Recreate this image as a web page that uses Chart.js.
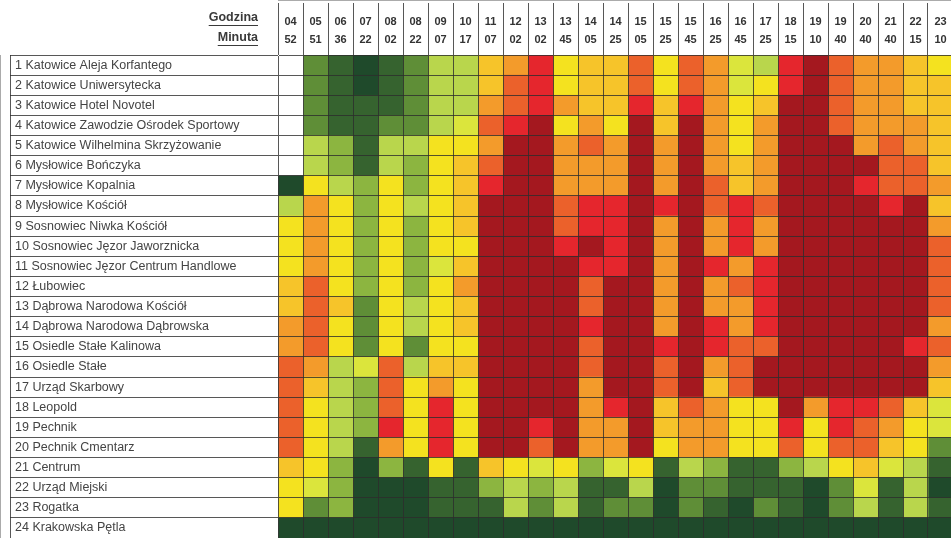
<!DOCTYPE html>
<html>
<head>
<meta charset="utf-8">
<script src="https://cdn.jsdelivr.net/npm/chart.js@4/dist/chart.umd.min.js"></script>
<style>
  html, body { margin: 0; padding: 0; background: #fff; }
  #wrap { width: 951px; height: 538px; }
</style>
</head>
<body>
<div id="wrap"><canvas id="chart"></canvas></div>
<script>
const stops = [
    '1 Katowice Aleja Korfantego',
    '2 Katowice Uniwersytecka',
    '3 Katowice Hotel Novotel',
    '4 Katowice Zawodzie Ośrodek Sportowy',
    '5 Katowice Wilhelmina Skrzyżowanie',
    '6 Mysłowice Bończyka',
    '7 Mysłowice Kopalnia',
    '8 Mysłowice Kościół',
    '9 Sosnowiec Niwka Kościół',
    '10 Sosnowiec Jęzor Jaworznicka',
    '11 Sosnowiec Jęzor Centrum Handlowe',
    '12 Łubowiec',
    '13 Dąbrowa Narodowa Kościół',
    '14 Dąbrowa Narodowa Dąbrowska',
    '15 Osiedle Stałe Kalinowa',
    '16 Osiedle Stałe',
    '17 Urząd Skarbowy',
    '18 Leopold',
    '19 Pechnik',
    '20 Pechnik Cmentarz',
    '21 Centrum',
    '22 Urząd Miejski',
    '23 Rogatka',
    '24 Krakowska Pętla'
];

const hours   = ['04','05','06','07','08','08','09','10','11','12','13','13','14','14','15','15','15','16','16','17','18','19','19','20','21','22','23'];
const minutes = ['52','51','36','22','02','22','07','17','07','02','02','45','05','25','05','25','45','25','45','25','15','10','40','40','40','15','10'];

// occupancy level per stop (row) and departure (column): 0 = almost empty ... 11 = overcrowded, null = no run
const levels = [
    [null,2,1,0,1,2,4,4,7,8,10,6,7,7,9,6,9,8,5,4,10,11,9,8,8,7,6],
    [null,2,1,0,1,2,4,4,7,9,10,6,7,7,9,6,9,8,5,6,10,11,9,8,8,7,7],
    [null,2,1,1,1,2,4,4,8,9,10,8,7,7,10,7,10,8,6,7,11,11,9,8,8,7,7],
    [null,2,1,1,2,2,4,5,9,10,11,6,8,6,11,7,11,8,6,8,11,11,9,8,8,8,7],
    [null,4,3,1,4,4,6,6,8,11,11,8,9,8,11,8,11,8,6,8,11,11,11,8,9,8,7],
    [null,4,3,1,4,3,6,7,9,11,11,8,8,8,11,8,11,8,7,8,11,11,11,11,9,9,7],
    [0,6,4,3,6,3,6,7,10,11,11,8,8,8,11,8,11,9,7,8,11,11,11,10,9,9,8],
    [4,8,6,3,6,4,6,7,11,11,11,9,10,10,11,10,11,9,10,9,11,11,11,11,10,11,7],
    [6,8,6,3,6,3,6,7,11,11,11,9,10,10,11,8,11,8,10,8,11,11,11,11,11,11,8],
    [6,8,6,3,6,3,6,6,11,11,11,10,11,10,11,8,11,8,10,8,11,11,11,11,11,11,9],
    [6,8,6,3,6,3,5,7,11,11,11,11,10,10,11,8,11,10,8,10,11,11,11,11,11,11,9],
    [7,9,6,3,6,3,6,8,11,11,11,11,9,11,11,8,11,8,9,10,11,11,11,11,11,11,9],
    [7,9,7,2,6,4,6,7,11,11,11,11,9,11,11,8,11,8,8,10,11,11,11,11,11,11,9],
    [8,9,6,2,6,4,6,7,11,11,11,11,10,11,11,8,11,10,8,10,11,11,11,11,11,11,8],
    [8,9,6,2,6,2,6,6,11,11,11,11,9,11,11,10,11,10,9,9,11,11,11,11,11,10,9],
    [9,8,4,5,9,4,7,7,11,11,11,11,9,11,11,9,11,8,9,11,11,11,11,11,11,11,8],
    [9,7,4,3,9,6,8,6,11,11,11,11,8,11,11,9,11,7,9,11,11,11,11,11,11,11,7],
    [9,6,4,3,9,6,10,6,11,11,11,11,8,10,11,7,9,8,6,6,11,8,10,10,9,7,5],
    [9,6,4,3,10,6,10,6,11,11,10,11,8,8,11,7,8,8,6,6,10,6,10,9,8,6,5],
    [9,6,4,1,8,6,10,6,11,11,9,11,8,8,11,6,8,8,6,6,9,6,9,9,7,6,2],
    [7,6,3,0,3,1,6,1,7,6,5,6,3,5,6,1,4,3,1,1,3,4,6,7,5,4,1],
    [6,5,3,0,0,0,1,1,3,4,3,4,1,1,4,0,2,2,1,1,1,0,2,5,1,4,0],
    [6,2,3,0,0,0,1,1,1,4,2,4,1,2,2,0,2,1,0,2,1,0,2,4,1,4,1],
    [0,0,0,0,0,0,0,0,0,0,0,0,0,0,0,0,0,0,0,0,0,0,0,0,0,0,0]
];

const palette = ['#1f4a2b','#36632f','#5f8e37','#8cb540','#b9d64c','#dbe53c',
                 '#f4e21f','#f6c42a','#f39b2b','#eb612b','#e5262d','#a4181f'];
const lineColor = 'rgba(45,45,45,0.8)';

// narrow face like the original, with a fallback size if it is missing
function hasFont(name) {
    const c = document.createElement('canvas').getContext('2d');
    c.font = '30px monospace';
    const ref = c.measureText('abcdefghijklmnop').width;
    c.font = '30px "' + name + '", monospace';
    return c.measureText('abcdefghijklmnop').width !== ref;
}
const narrow = hasFont('Liberation Sans Narrow');
const font = narrow ? '"Liberation Sans Narrow", "Liberation Sans", sans-serif' : '"Liberation Sans", sans-serif';
const labelSize = narrow ? 15 : 12.5;
const headSize = narrow ? 12.5 : 11;
const titleSize = narrow ? 14 : 12.5;

// each departure is one stacked column of equal-width cells
const datasets = hours.map((h, c) => ({
    label: h + ':' + minutes[c],
    data: stops.map(() => 1),
    backgroundColor: levels.map(row => row[c] === null ? '#ffffff' : palette[row[c]]),
    borderWidth: 0,
    barPercentage: 1,
    categoryPercentage: 1
}));

const headerTitles = {
    id: 'headerTitles',
    afterDraw(chart) {
        const {ctx} = chart;
        const x = chart.scales.x;
        const y = chart.scales.y;
        ctx.save();
        // left border of the stop name column
        const left = y.right - y.options.grid.tickLength;
        ctx.strokeStyle = lineColor;
        ctx.lineWidth = 1;
        ctx.beginPath();
        ctx.moveTo(left + 0.5, y.top);
        ctx.lineTo(left + 0.5, y.bottom);
        ctx.stroke();

        ctx.font = 'bold ' + titleSize + 'px ' + font;
        ctx.fillStyle = '#3a3a3a';
        ctx.textAlign = 'right';
        ctx.textBaseline = 'middle';
        const right = x.left - 20;
        [['Godzina', x.top + 15], ['Minuta', x.top + 35]].forEach(([t, ty]) => {
            ctx.fillText(t, right, ty);
            const w = ctx.measureText(t).width;
            ctx.fillRect(right - w, ty + 7, w, 1);
        });
        ctx.restore();
    }
};

new Chart(document.getElementById('chart'), {
    type: 'bar',
    data: {labels: stops, datasets: datasets},
    options: {
        indexAxis: 'y',
        responsive: true,
        maintainAspectRatio: false,
        animation: false,
        layout: {padding: {left: 15, top: 3, right: 0, bottom: -2}},
        plugins: {
            legend: {display: false},
            tooltip: {enabled: false}
        },
        scales: {
            x: {
                position: 'top',
                stacked: true,
                min: 0,
                max: 26.92,
                afterBuildTicks: s => { s.ticks = hours.map((h, i) => ({value: i})); },
                afterFit: s => { s.height = 52; s.paddingLeft = 0; s.paddingRight = 0; },
                grid: {z: 1, color: lineColor, tickLength: 52},
                border: {color: lineColor},
                ticks: {
                    autoSkip: false,
                    maxRotation: 0,
                    minRotation: 0,
                    padding: -46,
                    labelOffset: 12.5,
                    color: '#333',
                    font: {family: font, size: headSize, weight: 'bold', lineHeight: 1.65},
                    callback: (v, i) => [hours[i], minutes[i]]
                }
            },
            y: {
                stacked: true,
                afterFit: s => { s.width = 263; s.paddingTop = 0; s.paddingBottom = 0; },
                grid: {z: 1, color: lineColor, tickLength: 268, offset: true},
                border: {color: lineColor},
                ticks: {
                    autoSkip: false,
                    crossAlign: 'far',
                    color: '#444',
                    font: {family: font, size: labelSize}
                }
            }
        }
    },
    plugins: [headerTitles]
});
</script>
</body>
</html>
